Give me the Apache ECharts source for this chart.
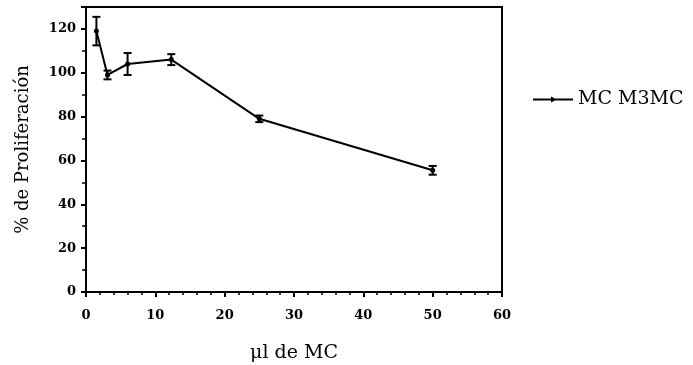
<!DOCTYPE html>
<html><head><meta charset="utf-8">
<script src="https://cdn.jsdelivr.net/npm/echarts@6/dist/echarts.min.js"></script>
<style>html,body{margin:0;padding:0;background:#fff}#c{width:693px;height:365px}</style>
</head><body><div id="c"></div>
<script>
const xValues = [1.5, 3.1, 6.0, 12.3, 25, 50];
const yValues = [119, 99, 104, 106, 79, 55.5];
const yErrors = [6.5, 2, 5, 2.5, 1.5, 2];
const xTicks = [0, 10, 20, 30, 40, 50, 60];
const yTicks = [0, 20, 40, 60, 80, 100, 120];
const seriesName = 'MC M3MC';

const font = 'DejaVu Serif';
const chart = echarts.init(document.getElementById('c'));
const lineData = xValues.map((x, i) => [x, yValues[i]]);
const errData = xValues.map((x, i) => [x, yValues[i] - yErrors[i], yValues[i] + yErrors[i]]);

chart.setOption({
  animation: false,
  backgroundColor: '#fff',
  grid: { left: 86, right: 191, top: 7, bottom: 73, show: true, borderColor: '#000', borderWidth: 2, backgroundColor: 'transparent', outerBoundsMode: 'none', containLabel: false },
  legend: {
    data: [{ name: seriesName, icon: 'path://M0,4 L40,4 L40,6 L0,6 Z M18,2 L24,5 L18,8 Z' }],
    left: 528, top: 85, itemWidth: 40, itemHeight: 8, itemGap: 4,
    textStyle: { fontFamily: font, fontSize: 19, color: '#000' }
  },
  xAxis: {
    type: 'value', min: 0, max: 60, interval: 10,
    name: 'μl de MC', nameLocation: 'middle', nameGap: 52,
    nameTextStyle: { fontFamily: font, fontSize: 19, color: '#000' },
    axisLine: { show: true, lineStyle: { color: '#000', width: 2 } },
    axisTick: { show: true, length: 5, lineStyle: { color: '#000', width: 2 } },
    minorTick: { show: true, splitNumber: 5, length: 3, lineStyle: { color: '#000', width: 1.5 } },
    axisLabel: { fontFamily: font, fontWeight: 'bold', fontSize: 13, color: '#000', margin: 17,
      formatter: v => xTicks.includes(v) ? String(v) : '' },
    splitLine: { show: false }
  },
  yAxis: {
    type: 'value', min: 0, max: 130, interval: 20,
    name: '% de Proliferación', nameLocation: 'middle', nameGap: 54,
    nameTextStyle: { fontFamily: font, fontSize: 18, color: '#000' },
    axisLine: { show: true, lineStyle: { color: '#000', width: 2 } },
    axisTick: { show: true, length: 5, lineStyle: { color: '#000', width: 2 } },
    minorTick: { show: true, splitNumber: 2, length: 4, lineStyle: { color: '#000', width: 1.5 } },
    axisLabel: { fontFamily: font, fontWeight: 'bold', fontSize: 13, color: '#000', margin: 10,
      formatter: v => yTicks.includes(v) ? String(v) : '' },
    splitLine: { show: false }
  },
  series: [
    {
      name: seriesName, type: 'line', data: lineData,
      symbol: 'circle', symbolSize: 5,
      lineStyle: { color: '#000', width: 2 },
      itemStyle: { color: '#000' }
    },
    {
      name: 'err', type: 'custom', data: errData, z: 3,
      renderItem: function (params, api) {
        const x = api.value(0);
        const lo = api.coord([x, api.value(1)]);
        const hi = api.coord([x, api.value(2)]);
        const w = 4;
        const st = { stroke: '#000', lineWidth: 2 };
        return { type: 'group', children: [
          { type: 'line', shape: { x1: lo[0], y1: lo[1], x2: hi[0], y2: hi[1] }, style: st },
          { type: 'line', shape: { x1: lo[0] - w, y1: lo[1], x2: lo[0] + w, y2: lo[1] }, style: st },
          { type: 'line', shape: { x1: hi[0] - w, y1: hi[1], x2: hi[0] + w, y2: hi[1] }, style: st }
        ]};
      }
    }
  ]
});
</script></body></html>
